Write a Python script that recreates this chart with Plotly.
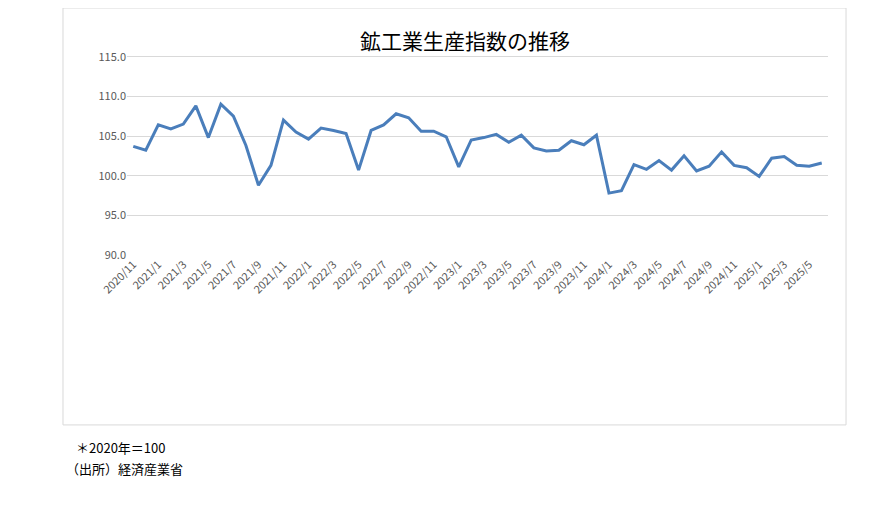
import plotly.graph_objects as go

months = []
for y, ms in [(2020, range(11, 13)), (2021, range(1, 13)), (2022, range(1, 13)),
              (2023, range(1, 13)), (2024, range(1, 13)), (2025, range(1, 7))]:
    for m in ms:
        months.append(f"{y}/{m}")

values = [103.7, 103.2,
          106.4, 105.9, 106.5, 108.8, 104.8, 109.0, 107.5, 103.8, 98.8, 101.3, 107.0, 105.5,
          104.6, 106.0, 105.7, 105.3, 100.7, 105.7, 106.4, 107.8, 107.3, 105.6, 105.6, 104.9,
          101.1, 104.5, 104.8, 105.2, 104.2, 105.1, 103.5, 103.1, 103.2, 104.4, 103.9, 105.1,
          97.8, 98.1, 101.4, 100.8, 101.9, 100.7, 102.5, 100.6, 101.2, 103.0, 101.3, 101.0,
          99.9, 102.2, 102.4, 101.3, 101.2, 101.6]

tick_labels = months[::2]
y_ticks = [90, 95, 100, 105, 110, 115, 120]

fig = go.Figure(go.Scatter(x=list(range(len(months))), y=values, mode="lines",
                           line=dict(color="#4a7ebb", width=3), hoverinfo="skip"))
font = "Noto Sans CJK JP, Liberation Sans, sans-serif"
fig.update_layout(
    width=886, height=505, paper_bgcolor="white", plot_bgcolor="white",
    margin=dict(l=119, r=66, t=9, b=258), showlegend=False,
    font=dict(family=font, color="#595959", size=11),
    xaxis=dict(range=[-0.5, len(months) - 0.5], tickvals=list(range(0, len(months), 2)),
               ticktext=tick_labels, tickangle=-45, showgrid=False, zeroline=False,
               showline=False, ticks="", tickfont=dict(size=11, color="#595959")),
    yaxis=dict(range=[90, 120], tickvals=y_ticks, ticktext=[f"{v:.1f}" for v in y_ticks],
               showgrid=True, gridcolor="#d9d9d9", zeroline=False, showline=False,
               ticks="", tickfont=dict(size=11, color="#595959")),
    shapes=[dict(type="rect", xref="paper", yref="paper", x0=-0.0913, x1=1.0257,
                 y0=-0.714, y1=1.0378, line=dict(color="#d9d9d9", width=1))],
    annotations=[
        dict(text="鉱工業生産指数の推移", xref="paper", yref="paper", x=0.482, y=0.905,
             xanchor="center", yanchor="middle",
             showarrow=False, font=dict(size=21, color="#000000")),
        dict(text="＊2020年＝100", xref="paper", yref="paper", x=-0.075, y=-0.807,
             xanchor="left", yanchor="middle", showarrow=False,
             font=dict(size=13, color="#000000")),
        dict(text="（出所）経済産業省", xref="paper", yref="paper", x=-0.09, y=-0.899,
             xanchor="left", yanchor="middle", showarrow=False,
             font=dict(size=13, color="#000000")),
    ],
)
fig.write_html("out.html")
